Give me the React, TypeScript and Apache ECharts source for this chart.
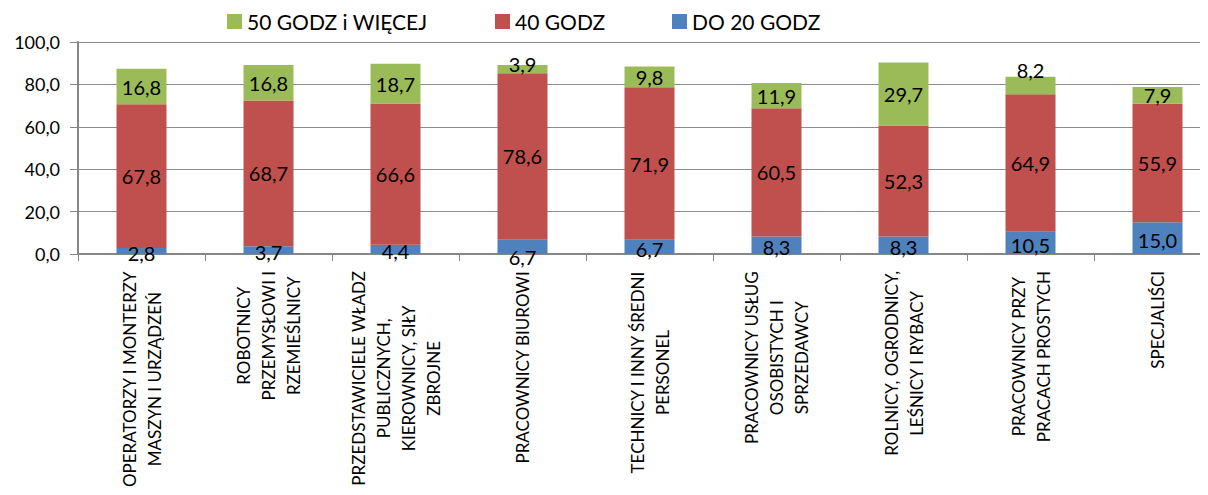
import React, { useEffect, useRef } from "react";
import * as echarts from "echarts";

const categories = [
  "OPERATORZY I MONTERZY\nMASZYN I URZĄDZEŃ",
  "ROBOTNICY\nPRZEMYSŁOWI I\nRZEMIEŚLNICY",
  "PRZEDSTAWICIELE WŁADZ\nPUBLICZNYCH,\nKIEROWNICY, SIŁY\nZBROJNE",
  "PRACOWNICY BIUROWI",
  "TECHNICY I INNY ŚREDNI\nPERSONEL",
  "PRACOWNICY USŁUG\nOSOBISTYCH I\nSPRZEDAWCY",
  "ROLNICY, OGRODNICY,\nLEŚNICY I RYBACY",
  "PRACOWNICY PRZY\nPRACACH PROSTYCH",
  "SPECJALIŚCI",
];

const seriesNames = ["50 GODZ i WIĘCEJ", "40 GODZ", "DO 20 GODZ"];

const do20 = [2.8, 3.7, 4.4, 6.7, 6.7, 8.3, 8.3, 10.5, 15.0];
const godz40 = [67.8, 68.7, 66.6, 78.6, 71.9, 60.5, 52.3, 64.9, 55.9];
const godz50 = [16.8, 16.8, 18.7, 3.9, 9.8, 11.9, 29.7, 8.2, 7.9];

const colors = { green: "#9BBB59", red: "#C0504D", blue: "#4F81BD" };
const FONT = "Lato";

const fmt = (v: number) => v.toFixed(1).replace(".", ",");

export default function App() {
  const ref = useRef<HTMLDivElement>(null);
  useEffect(() => {
    if (!ref.current) return;
    const chart = echarts.init(ref.current, null, { renderer: "svg" });
    const labelStyle = {
      show: true,
      fontFamily: FONT,
      fontSize: 20,
      color: "#000",
      formatter: (p: any) => fmt(p.value),
    };
    const legendLefts = [222, 490, 667];
    const legend = seriesNames.map((n, i) => ({
      top: 6,
      left: legendLefts[i],
      itemWidth: 15,
      itemHeight: 15,
      icon: "rect",
      textStyle: { fontFamily: FONT, fontSize: 21, color: "#000" },
      data: [n],
    }));
    // label nudges mirroring the reference's hand-placed labels
    const greenNudge: Record<number, number> = { 3: -5, 7: -15 };
    const blueNudge: Record<number, number> = { 3: 8 };
    chart.setOption({
      animation: false,
      textStyle: { fontFamily: FONT },
      legend,
      grid: {
        left: 78,
        top: 42,
        width: 1143,
        height: 212,
        containLabel: false,
        outerBoundsMode: "none",
      },
      xAxis: {
        type: "category",
        data: categories,
        axisLine: { lineStyle: { color: "#868686", width: 2 } },
        axisTick: { show: true, length: 7, lineStyle: { color: "#868686", width: 1 } },
        axisLabel: {
          rotate: 90,
          margin: 17,
          interval: 0,
          formatter: (v: string) =>
            v
              .split("\n")
              .map((l) => `{c|${l}}`)
              .join("\n"),
          rich: {
            c: { align: "center", fontFamily: FONT, fontSize: 17, lineHeight: 25, color: "#000" },
          },
        },
      },
      yAxis: {
        type: "value",
        min: 0,
        max: 100,
        interval: 20,
        axisLine: { show: true, lineStyle: { color: "#868686", width: 2 } },
        axisTick: { show: true, length: 8, lineStyle: { color: "#868686", width: 1 } },
        splitLine: { lineStyle: { color: "#8C8C8C", width: 1 } },
        axisLabel: {
          margin: 18,
          fontFamily: FONT,
          fontSize: 18,
          color: "#000",
          formatter: (v: number) => fmt(v),
        },
      },
      series: [
        {
          name: seriesNames[2],
          type: "bar",
          stack: "t",
          barWidth: 50,
          data: do20.map((v, i) => ({
            value: v,
            label: { offset: [0, 2 + (blueNudge[i] || 0)] },
          })),
          itemStyle: { color: colors.blue },
          label: { ...labelStyle, position: "inside" },
        },
        {
          name: seriesNames[1],
          type: "bar",
          stack: "t",
          barWidth: 50,
          data: godz40,
          itemStyle: { color: colors.red },
          label: { ...labelStyle, position: "inside" },
        },
        {
          name: seriesNames[0],
          type: "bar",
          stack: "t",
          barWidth: 50,
          data: godz50.map((v, i) => ({
            value: v,
            label: { offset: [0, greenNudge[i] || 0] },
          })),
          itemStyle: { color: colors.green },
          label: { ...labelStyle, position: "inside" },
        },
      ],
    });
    return () => chart.dispose();
  }, []);
  return <div ref={ref} style={{ width: 1208, height: 495, margin: -8 }} />;
}
